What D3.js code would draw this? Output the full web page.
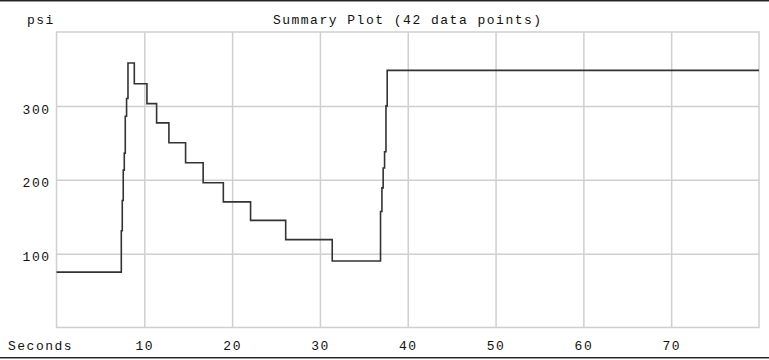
<!DOCTYPE html>
<html>
<head>
<meta charset="utf-8">
<script src="https://cdn.jsdelivr.net/npm/d3@7"></script>
<style>
  body { margin: 0; background: #fff; }
  svg text { font-family: "Courier New", "Liberation Mono", monospace; font-size: 13px; letter-spacing: 1.5px; fill: #111; }
</style>
</head>
<body>
<div id="chart"></div>
<script>
// summary plot data (seconds, psi), drawn as step-after
const seconds = [0, 7.38, 7.49, 7.6, 7.72, 7.83, 7.98, 8.14, 8.86, 10.3, 11.4, 12.8, 14.7, 16.7, 19.0,
  22.1, 26.1, 31.4, 36.9, 37.06, 37.2, 37.36, 37.52, 37.66, 80];
const psi = [75, 131, 172, 213, 236, 286, 310, 358, 330, 303, 277, 250, 223, 196, 170,
  145, 119, 90, 157, 189, 216, 238, 300, 348, 348];
const xTicks = [10, 20, 30, 40, 50, 60, 70];
const yTicks = [100, 200, 300];
const xDomain = [0, 80];
const yDomain = [0, 400];
const title = "Summary Plot (42 data points)";

const cfg = {
  width: 769,
  height: 360,
  margin: { left: 56.5, right: 10, top: 32, bottom: 32.5 }
};

const svg = d3.select("#chart")
  .append("svg")
  .attr("width", cfg.width)
  .attr("height", cfg.height);

const xScale = d3.scaleLinear(xDomain, [cfg.margin.left, cfg.width - cfg.margin.right]);
const yScale = d3.scaleLinear(yDomain, [cfg.height - cfg.margin.bottom, cfg.margin.top]);

// outer border lines
svg.append("line").attr("x1", 0).attr("x2", cfg.width).attr("y1", 0.5).attr("y2", 0.5)
  .style("stroke", "#222").style("stroke-width", 1);
svg.append("line").attr("x1", 0).attr("x2", cfg.width).attr("y1", 1.5).attr("y2", 1.5)
  .style("stroke", "#999").style("stroke-width", 1);
svg.append("line").attr("x1", 0).attr("x2", cfg.width).attr("y1", 357.5).attr("y2", 357.5)
  .style("stroke", "#222").style("stroke-width", 1);
svg.append("line").attr("x1", 0).attr("x2", cfg.width).attr("y1", 358.5).attr("y2", 358.5)
  .style("stroke", "#999").style("stroke-width", 1);

const plotH = yScale(yDomain[0]) - yScale(yDomain[1]);
const plotW = xScale(xDomain[1]) - xScale(xDomain[0]);

// grid lines
const xGrid = svg.append("g")
  .attr("class", "x-grid")
  .attr("transform", `translate(0, ${yScale(yDomain[0])})`)
  .call(d3.axisBottom(xScale).tickValues(xTicks).tickSize(-plotH).tickFormat(""));
const yGrid = svg.append("g")
  .attr("class", "y-grid")
  .attr("transform", `translate(${xScale(xDomain[0])}, 0)`)
  .call(d3.axisLeft(yScale).tickValues(yTicks).tickSize(-plotW).tickFormat(""));
[xGrid, yGrid].forEach(g => {
  g.select(".domain").remove();
  g.selectAll("line").style("stroke", "#cfcfcf").style("stroke-width", 1.5);
});

// plot frame
svg.append("rect")
  .attr("x", xScale(xDomain[0]))
  .attr("y", yScale(yDomain[1]))
  .attr("width", plotW)
  .attr("height", plotH)
  .style("fill", "none")
  .style("stroke", "#cfcfcf")
  .style("stroke-width", 1.5);

// tick labels
const xLab = svg.append("g")
  .attr("class", "x-axis")
  .attr("transform", `translate(0, ${yScale(yDomain[0])})`)
  .call(d3.axisBottom(xScale).tickValues(xTicks).tickSize(0).tickFormat(d3.format("d")));
xLab.select(".domain").remove();
xLab.selectAll("text").attr("y", 22).attr("dy", null);

const yLab = svg.append("g")
  .attr("class", "y-axis")
  .attr("transform", `translate(${xScale(xDomain[0])}, 0)`)
  .call(d3.axisLeft(yScale).tickValues(yTicks).tickSize(0).tickFormat(d3.format("d")));
yLab.select(".domain").remove();
yLab.selectAll("text").attr("x", -6).attr("dy", "0.55em");

[xLab, yLab].forEach(g => g.attr("font-family", null).attr("font-size", null));

// labels
svg.append("text").attr("x", 27).attr("y", 24).text("psi");
svg.append("text").attr("x", 8).attr("y", 350).text("Seconds");
svg.append("text")
  .attr("x", (xScale(xDomain[0]) + xScale(xDomain[1])) / 2)
  .attr("y", 24)
  .attr("text-anchor", "middle")
  .text(title);

// the step line
const pts = seconds.map((t, i) => [t, psi[i]]);
const line = d3.line()
  .x(d => xScale(d[0]))
  .y(d => yScale(d[1]))
  .curve(d3.curveStepAfter);

svg.append("path")
  .datum(pts)
  .attr("d", line)
  .style("fill", "none")
  .style("stroke", "#333")
  .style("stroke-width", 1.6);
</script>
</body>
</html>
